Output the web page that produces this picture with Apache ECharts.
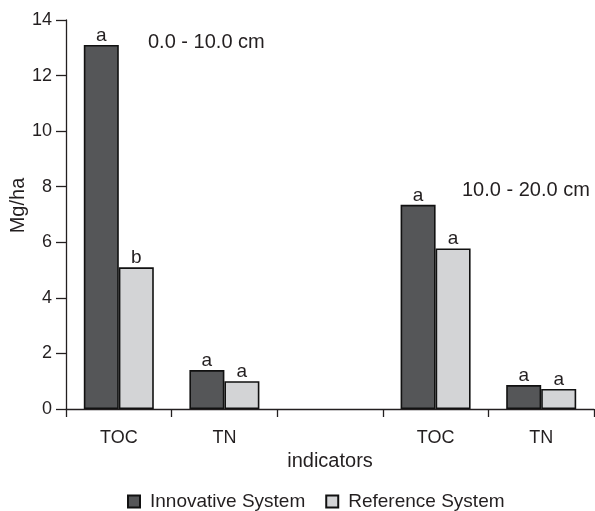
<!DOCTYPE html>
<html><head><meta charset="utf-8">
<script src="https://cdn.jsdelivr.net/npm/echarts@6/dist/echarts.min.js"></script>
<style>html,body{margin:0;padding:0;background:#fff}#c{width:595px;height:511px}</style>
</head><body><div id="c"></div>
<script>
var categories = ['TOC', 'TN', '', 'TOC', 'TN'];
var innovative = [13.1, 1.4, null, 7.35, 0.86];
var reference = [5.1, 1.0, null, 5.78, 0.72];
var innovLetters = ['a', 'a', '', 'a', 'a'];
var refLetters = ['b', 'a', '', 'a', 'a'];
var yTicks = [0, 2, 4, 6, 8, 10, 12, 14];
var depthNotes = ['0.0 - 10.0 cm', '10.0 - 20.0 cm'];

var font = 'Liberation Sans, Arial, sans-serif';
var ink = '#231f20';
var chart = echarts.init(document.getElementById('c'));
function lbl(letters) {
  return {show: true, position: 'top', distance: 0, color: ink, fontFamily: font, fontSize: 19,
    formatter: function (p) { return letters[p.dataIndex]; }};
}
chart.setOption({
  animation: false,
  textStyle: {fontFamily: font},
  grid: {left: 66, top: 20, right: 1, bottom: 102, containLabel: false, outerBoundsMode: 'none'},
  xAxis: {
    type: 'category', data: categories,
    name: 'indicators', nameLocation: 'middle', nameGap: 42, nameMoveOverlap: false,
    nameTextStyle: {color: ink, fontSize: 20, fontFamily: font},
    axisLine: {lineStyle: {color: ink, width: 1.3}},
    axisTick: {show: true, length: 8, lineStyle: {color: ink, width: 1.3}},
    axisLabel: {color: ink, fontSize: 18, margin: 20, fontFamily: font}
  },
  yAxis: {
    type: 'value', min: yTicks[0], max: yTicks[yTicks.length - 1], interval: 2,
    name: 'Mg/ha', nameLocation: 'middle', nameGap: 38, nameRotate: 90, nameMoveOverlap: false,
    nameTextStyle: {color: ink, fontSize: 20, fontFamily: font, padding: [0, 0, 0, 18]},
    splitLine: {show: false},
    axisLine: {show: true, lineStyle: {color: ink, width: 1.3}},
    axisTick: {show: true, length: 10, lineStyle: {color: ink, width: 1.3}},
    axisLabel: {color: ink, fontSize: 18, margin: 14, fontFamily: font}
  },
  legend: {
    bottom: 0, left: 127, itemWidth: 12, itemHeight: 12, itemGap: 20,
    padding: [0, 5, 0, 0],
    icon: 'rect',
    textStyle: {color: ink, fontSize: 19, fontFamily: font, padding: [0, 0, 0, 5]},
    data: ['Innovative System', 'Reference System']
  },
  graphic: [
    {type: 'text', left: 148, top: 32, style: {text: depthNotes[0], fill: ink, font: '20px ' + font}},
    {type: 'text', left: 462, top: 180, style: {text: depthNotes[1], fill: ink, font: '20px ' + font}}
  ],
  series: [
    {name: 'Innovative System', type: 'bar', data: innovative, barWidth: 35, barGap: '0%',
      itemStyle: {color: '#555658', borderColor: '#111', borderWidth: 1.6}, label: lbl(innovLetters)},
    {name: 'Reference System', type: 'bar', data: reference, barWidth: 35, barGap: '0%',
      itemStyle: {color: '#d3d4d6', borderColor: '#111', borderWidth: 1.6}, label: lbl(refLetters)}
  ]
});
</script></body></html>
